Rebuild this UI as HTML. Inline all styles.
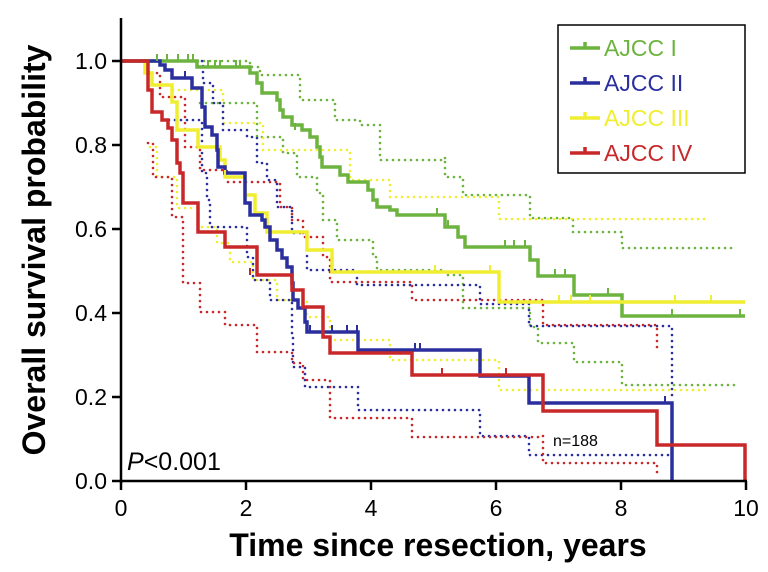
<!DOCTYPE html>
<html><head><meta charset="utf-8"><style>
body{margin:0;background:#fff}
svg{display:block;font-family:"Liberation Sans",Arial,sans-serif}
</style></head><body>
<svg id="s" width="768" height="572" viewBox="0 0 768 572" xmlns="http://www.w3.org/2000/svg">
<g id="ci" fill="none" stroke-width="2.6" stroke-dasharray="0 6" stroke-linecap="round"></g>
<g id="main" fill="none" stroke-width="3.5"></g>
<line x1="121" y1="18" x2="121" y2="483" stroke="#000" stroke-width="2.5"/>
<line x1="120" y1="481" x2="747" y2="481" stroke="#000" stroke-width="2.5"/>
<g stroke="#000" stroke-width="2.5">
<line x1="121" y1="481" x2="121" y2="490"/><line x1="246" y1="481" x2="246" y2="490"/><line x1="371" y1="481" x2="371" y2="490"/><line x1="496" y1="481" x2="496" y2="490"/><line x1="621" y1="481" x2="621" y2="490"/><line x1="746" y1="481" x2="746" y2="490"/>
<line x1="112" y1="481" x2="121" y2="481"/><line x1="112" y1="397" x2="121" y2="397"/><line x1="112" y1="313" x2="121" y2="313"/><line x1="112" y1="229" x2="121" y2="229"/><line x1="112" y1="145" x2="121" y2="145"/><line x1="112" y1="61" x2="121" y2="61"/>
</g>
<g font-size="23" text-anchor="middle" fill="#000">
<text x="121" y="516">0</text><text x="246" y="516">2</text><text x="371" y="516">4</text><text x="496" y="516">6</text><text x="621" y="516">8</text><text x="746" y="516">10</text>
</g>
<g font-size="23" text-anchor="end" fill="#000">
<text x="107" y="489">0.0</text><text x="107" y="405">0.2</text><text x="107" y="321">0.4</text><text x="107" y="237">0.6</text><text x="107" y="153">0.8</text><text x="107" y="69">1.0</text>
</g>
<text x="438" y="556" font-size="32" font-weight="bold" text-anchor="middle">Time since resection, years</text>
<text transform="translate(45,250) rotate(-90)" font-size="32" font-weight="bold" text-anchor="middle">Overall survival probability</text>
<text x="127" y="470" font-size="25"><tspan font-style="italic">P</tspan>&lt;0.001</text>
<text x="553" y="446" font-size="16">n=188</text>
<rect x="558" y="25" width="187" height="148" fill="#fff" stroke="#000" stroke-width="1.5"/>
<g stroke-width="3.5">
<line x1="570" y1="48" x2="600" y2="48" stroke="#6db33f"/><line x1="585" y1="42" x2="585" y2="48" stroke="#6db33f"/>
<line x1="570" y1="83" x2="600" y2="83" stroke="#2b2f9e"/><line x1="585" y1="77" x2="585" y2="83" stroke="#2b2f9e"/>
<line x1="570" y1="118" x2="600" y2="118" stroke="#f0ee30"/><line x1="585" y1="112" x2="585" y2="118" stroke="#f0ee30"/>
<line x1="570" y1="153" x2="600" y2="153" stroke="#c8282a"/><line x1="585" y1="147" x2="585" y2="153" stroke="#c8282a"/>
</g>
<g font-size="23">
<text x="604" y="56" fill="#6db33f">AJCC I</text>
<text x="604" y="91" fill="#2b2f9e">AJCC II</text>
<text x="604" y="126" fill="#f0ee30">AJCC III</text>
<text x="604" y="161" fill="#c8282a">AJCC IV</text>
</g>
</svg>
<script>
var G="#6db33f",B="#2b2f9e",Y="#f0ee30",R="#c8282a";
function step(p){var d="M"+p[0][0]+" "+p[0][1];for(var i=1;i<p.length;i++){d+=" H"+p[i][0]+" V"+p[i][1];}return d;}
function add(g,c,p){var e=document.createElementNS("http://www.w3.org/2000/svg","path");e.setAttribute("d",step(p));e.setAttribute("stroke",c);document.getElementById(g).appendChild(e);}
add("ci",G,[[150,61],[250,67],[260,75],[300,100],[320,100],[335,120],[360,125],[380,160],[445,157],[445,177],[463,195],[530,218],[573,232],[622,248],[737,248]]);
add("ci",G,[[200,103],[247,103],[257,137],[283,153],[297,177],[317,193],[323,220],[337,240],[373,257],[377,270],[445,275],[463,308],[530,327],[538,343],[574,362],[622,385],[735,385]]);
add("ci",Y,[[173,90],[200,90],[223,123],[263,150],[307,150],[350,180],[390,197],[499,197],[499,219],[707,219]]);
add("ci",Y,[[150,147],[157,177],[177,208],[198,227],[217,243],[230,262],[253,280],[277,300],[307,317],[330,340],[390,360],[499,360],[499,390],[707,390]]);
add("ci",B,[[160,61],[203,83],[213,103],[223,130],[247,137],[257,163],[267,180],[277,207],[292,233],[307,270],[357,285],[480,287],[480,304],[529,326],[672,326],[672,400]]);
add("ci",B,[[163,120],[202,173],[207,200],[210,227],[247,257],[253,280],[270,300],[292,333],[293,367],[305,387],[358,410],[480,410],[480,436],[529,455],[672,455]]);
add("ci",R,[[157,73],[160,97],[185,147],[200,170],[227,182],[280,207],[292,220],[303,237],[323,257],[330,282],[412,300],[543,302],[543,325],[657,325],[657,353]]);
add("ci",R,[[148,143],[153,177],[172,217],[183,283],[200,312],[225,325],[257,352],[292,363],[303,380],[330,418],[412,437],[543,436],[543,463],[657,463],[657,473]]);
add("main",G,[[121,61],[197,67],[250,73],[257,83],[262,93],[277,100],[280,110],[283,117],[292,125],[302,130],[310,137],[317,147],[320,157],[322,167],[340,175],[348,182],[368,190],[373,200],[377,207],[390,210],[397,215],[445,227],[458,237],[465,247],[530,260],[538,276],[574,295],[622,316],[745,316]]);
add("main",Y,[[121,61],[145,73],[152,85],[172,102],[177,130],[198,147],[220,160],[225,177],[245,195],[255,213],[267,232],[307,250],[332,272],[499,302],[745,302]]);
add("main",B,[[121,61],[160,65],[165,70],[172,78],[192,88],[202,107],[205,127],[212,135],[217,150],[218,167],[225,173],[245,203],[250,215],[262,220],[265,227],[270,240],[277,250],[282,258],[287,267],[292,283],[293,300],[298,308],[305,322],[307,332],[358,350],[480,376],[529,403],[672,481]]);
add("main",R,[[121,61],[148,90],[152,112],[162,120],[168,128],[172,140],[177,163],[180,173],[183,203],[198,232],[225,247],[257,275],[292,290],[303,307],[323,337],[330,353],[412,375],[543,411],[657,445],[745,481]]);
var t=document.getElementById("main");
function ticks(c,list){list.forEach(function(p){var e=document.createElementNS("http://www.w3.org/2000/svg","line");e.setAttribute("x1",p[0]);e.setAttribute("x2",p[0]);e.setAttribute("y1",p[1]-7);e.setAttribute("y2",p[1]);e.setAttribute("stroke",c);e.setAttribute("stroke-width","2");t.appendChild(e);});}
ticks(G,[[157,61],[167,61],[178,61],[188,61],[193,61],[208,67],[215,67],[220,67],[236,67],[240,67],[295,130],[437,215],[448,227],[505,247],[514,247],[525,247],[555,276],[565,276],[608,295],[672,316],[740,316]]);
ticks(Y,[[225,177],[435,272],[490,272],[559,302],[571,302],[590,302],[675,302],[711,302]]);
ticks(B,[[185,78],[310,332],[332,332],[347,332],[357,332],[415,350],[420,350],[665,403]]);
ticks(R,[[250,275],[442,375],[506,375]]);
</script>
</body></html>
